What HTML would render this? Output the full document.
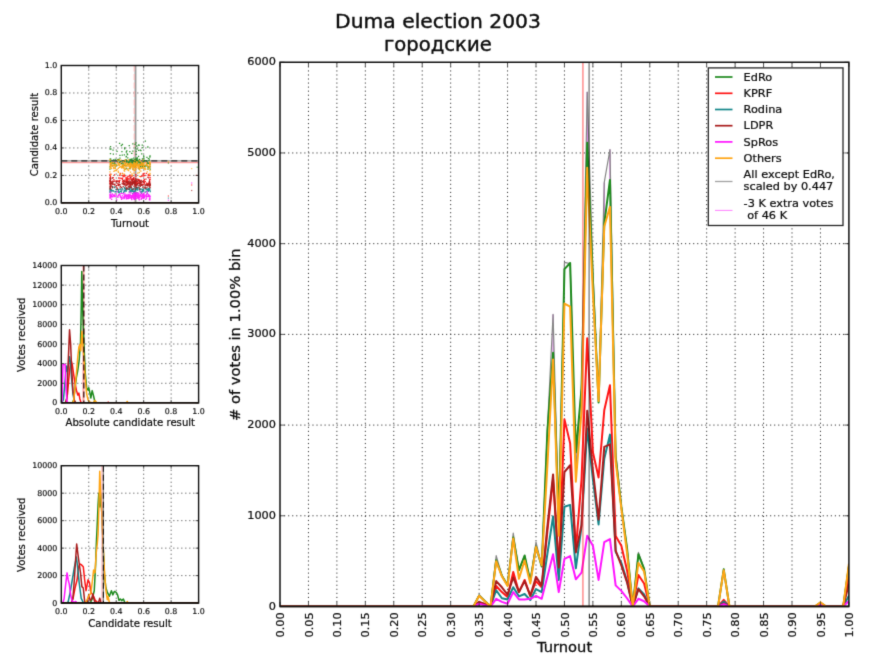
<!DOCTYPE html>
<html lang="ru"><head><meta charset="utf-8"><title>Duma election 2003</title>
<style>html,body{margin:0;padding:0;background:#fff;overflow:hidden}svg{display:block}text{font-family:'DejaVu Sans', 'Liberation Sans', sans-serif}</style></head><body>
<svg width="875" height="656" viewBox="0 0 875 656">
<defs><clipPath id="cm"><rect x="280.0" y="62.25" width="568.9" height="544.25"/></clipPath><clipPath id="c2"><rect x="61.3" y="265.5" width="137.3" height="137.4"/></clipPath><clipPath id="c3"><rect x="61.3" y="465.7" width="137.3" height="137.4"/></clipPath><filter id="soft" color-interpolation-filters="sRGB" filterUnits="userSpaceOnUse" x="0" y="0" width="875" height="656"><feConvolveMatrix order="3" kernelMatrix="0.0144 0.0912 0.0144 0.0912 0.5776 0.0912 0.0144 0.0912 0.0144" edgeMode="duplicate" preserveAlpha="false"/></filter></defs>
<rect width="875" height="656" fill="#fff"/>
<g filter="url(#soft)">
<rect width="875" height="656" fill="#fff"/>
<g id="title"><text x="438.00" y="28.30" font-size="20.3" text-anchor="middle" fill="#0c0c0c" stroke="#0c0c0c" stroke-width="0.41">Duma election 2003</text><text x="437.90" y="50.50" font-size="19.6" text-anchor="middle" fill="#0c0c0c" stroke="#0c0c0c" stroke-width="0.39">городские</text></g>
<g id="sub1"><line x1="88.76" y1="65.50" x2="88.76" y2="202.90" stroke="#333" stroke-width="0.9" stroke-dasharray="1.05,2.95"/><line x1="116.22" y1="65.50" x2="116.22" y2="202.90" stroke="#333" stroke-width="0.9" stroke-dasharray="1.05,2.95"/><line x1="143.68" y1="65.50" x2="143.68" y2="202.90" stroke="#333" stroke-width="0.9" stroke-dasharray="1.05,2.95"/><line x1="171.14" y1="65.50" x2="171.14" y2="202.90" stroke="#333" stroke-width="0.9" stroke-dasharray="1.05,2.95"/><line x1="61.30" y1="175.42" x2="198.60" y2="175.42" stroke="#333" stroke-width="0.9" stroke-dasharray="1.05,2.95"/><line x1="61.30" y1="147.94" x2="198.60" y2="147.94" stroke="#333" stroke-width="0.9" stroke-dasharray="1.05,2.95"/><line x1="61.30" y1="120.46" x2="198.60" y2="120.46" stroke="#333" stroke-width="0.9" stroke-dasharray="1.05,2.95"/><line x1="61.30" y1="92.98" x2="198.60" y2="92.98" stroke="#333" stroke-width="0.9" stroke-dasharray="1.05,2.95"/><line x1="135.5" y1="65.5" x2="135.5" y2="202.9" stroke="#9a9a9a" stroke-width="1.9"/><line x1="134.2" y1="65.5" x2="134.2" y2="202.9" stroke="#ffb4b4" stroke-width="1.0" stroke-dasharray="6,2.5"/><line x1="61.3" y1="162.5" x2="198.6" y2="162.5" stroke="#ff9c9c" stroke-width="1.3"/><line x1="61.3" y1="160.9" x2="198.6" y2="160.9" stroke="#8c8c8c" stroke-width="1.2"/><line x1="61.3" y1="160.9" x2="198.6" y2="160.9" stroke="#2a2a2a" stroke-width="1.1" stroke-dasharray="6,4"/><path d="M109.8,160.3h1.3M149.2,164.5h1.3M124.7,163.3h1.3M113.1,163.4h1.3M137.2,161.9h1.3M149.3,163.8h1.3M134.1,162.8h1.3M148.7,162.7h1.3M133.5,162.4h1.3M109.7,161.2h1.3M129.4,165.8h1.3M127.7,164.7h1.3M143.2,156.9h1.3M122.0,162.8h1.3M138.5,162.8h1.3M124.9,165.8h1.3M143.5,161.2h1.3M128.2,163.0h1.3M125.3,159.6h1.3M120.1,161.3h1.3M125.5,156.9h1.3M114.0,163.0h1.3M136.3,162.6h1.3M127.3,164.7h1.3M133.0,164.5h1.3M114.0,164.7h1.3M135.5,158.2h1.3M131.4,161.6h1.3M130.6,160.7h1.3M126.4,161.2h1.3M133.1,162.7h1.3M128.0,162.0h1.3M119.1,162.5h1.3M124.3,169.2h1.3M109.8,161.0h1.3M116.6,159.6h1.3M119.3,158.1h1.3M132.4,169.2h1.3M145.6,164.8h1.3M126.3,162.4h1.3M118.9,162.6h1.3M119.6,161.4h1.3M126.0,161.1h1.3M142.2,162.6h1.3M134.1,159.6h1.3M137.0,164.0h1.3M132.6,160.1h1.3M136.1,160.7h1.3M114.6,166.8h1.3M135.8,158.6h1.3M132.8,162.6h1.3M134.7,159.4h1.3M110.1,165.3h1.3M128.7,163.3h1.3M112.3,165.4h1.3M139.0,159.4h1.3M141.3,165.7h1.3M123.5,165.4h1.3M126.1,168.5h1.3M144.1,166.5h1.3M129.6,166.3h1.3M129.2,168.6h1.3M138.6,169.2h1.3M132.7,166.7h1.3M110.1,159.1h1.3M138.6,165.6h1.3M129.2,164.1h1.3M146.4,166.1h1.3M138.6,162.9h1.3M117.4,160.2h1.3M127.1,157.8h1.3M122.5,164.0h1.3M110.0,164.6h1.3M144.8,165.8h1.3M138.8,160.9h1.3M143.5,160.6h1.3M147.6,163.3h1.3M109.5,161.4h1.3M126.0,161.1h1.3M109.6,158.9h1.3M109.3,169.2h1.3M134.7,163.6h1.3M132.3,164.8h1.3M143.6,161.1h1.3M138.5,162.1h1.3M129.4,159.4h1.3M109.9,161.9h1.3M141.8,159.0h1.3M131.0,164.8h1.3M134.0,167.3h1.3M135.1,163.4h1.3M130.3,160.5h1.3M139.8,166.9h1.3M112.8,160.0h1.3M138.4,161.0h1.3M146.0,160.9h1.3M121.9,165.4h1.3M147.4,166.9h1.3M135.4,163.9h1.3M138.2,168.1h1.3M147.4,167.6h1.3M130.9,162.4h1.3M143.8,165.4h1.3M139.2,161.6h1.3M140.3,163.7h1.3M111.8,163.0h1.3M116.2,165.5h1.3M142.8,161.1h1.3M143.2,160.4h1.3M147.4,169.2h1.3M134.1,162.5h1.3M140.9,163.6h1.3M149.5,166.9h1.3M121.8,167.0h1.3M117.7,159.4h1.3M148.3,166.6h1.3M132.2,166.2h1.3M110.4,163.8h1.3M130.1,167.1h1.3M129.1,160.2h1.3M111.9,165.8h1.3M146.5,163.7h1.3M130.2,162.8h1.3M110.0,160.5h1.3M129.3,161.7h1.3M114.5,159.5h1.3M110.2,162.4h1.3M122.3,161.2h1.3M131.3,163.9h1.3M114.2,165.1h1.3M133.1,165.9h1.3M132.2,165.9h1.3M137.3,162.0h1.3M130.6,159.3h1.3M133.9,161.8h1.3M142.0,164.6h1.3M122.0,165.5h1.3M146.3,157.3h1.3M133.3,162.8h1.3M143.3,158.8h1.3M110.0,160.1h1.3M125.7,160.7h1.3M136.3,159.1h1.3M148.3,160.6h1.3M129.5,160.9h1.3M116.9,161.9h1.3M134.7,166.2h1.3M115.2,164.1h1.3M136.8,158.0h1.3M146.7,162.2h1.3M127.9,162.5h1.3M122.4,166.3h1.3M109.8,162.4h1.3M129.8,168.1h1.3M123.7,161.8h1.3M134.7,161.5h1.3M148.7,159.2h1.3M144.0,166.1h1.3M125.6,165.7h1.3M141.7,165.0h1.3M142.1,165.5h1.3M142.1,167.9h1.3M137.3,159.8h1.3M140.1,166.7h1.3M138.9,164.7h1.3M139.2,165.5h1.3M118.6,160.0h1.3M136.1,165.2h1.3M130.8,159.6h1.3M142.3,163.1h1.3M140.0,162.5h1.3M139.1,163.1h1.3M131.8,162.5h1.3M131.4,162.2h1.3M139.9,165.0h1.3M149.6,169.2h1.3M141.9,166.8h1.3M124.9,165.7h1.3M136.7,163.7h1.3M109.4,166.8h1.3M133.7,160.4h1.3M149.2,164.0h1.3M131.4,159.1h1.3M120.7,163.5h1.3M128.4,163.0h1.3M135.2,163.0h1.3M139.5,165.8h1.3M148.2,163.5h1.3M138.8,164.7h1.3M110.2,162.9h1.3M138.4,145.4h1.3M110.2,149.0h1.3M125.7,156.4h1.3M128.6,145.7h1.3M135.9,159.7h1.3M109.5,149.2h1.3M126.2,150.9h1.3M147.7,158.7h1.3M118.9,143.3h1.3M134.5,144.4h1.3M132.2,143.8h1.3M133.1,158.2h1.3M125.7,152.0h1.3M144.7,141.1h1.3M138.0,150.4h1.3M109.9,146.6h1.3M138.1,145.0h1.3M134.7,147.8h1.3M129.2,151.6h1.3M133.0,161.7h1.3M141.6,145.2h1.3M140.3,150.7h1.3M139.7,150.1h1.3M149.2,157.0h1.3M123.7,154.8h1.3M126.5,153.8h1.3M112.4,150.2h1.3M126.9,154.5h1.3M121.3,151.7h1.3M131.0,153.3h1.3M131.2,153.4h1.3M124.0,148.8h1.3M124.0,148.0h1.3M131.4,159.0h1.3M147.2,147.0h1.3M121.6,155.1h1.3M121.8,144.5h1.3M119.3,155.4h1.3M137.9,156.4h1.3M137.2,161.1h1.3M143.0,155.9h1.3M116.4,151.4h1.3M120.7,145.5h1.3M132.2,151.1h1.3M135.5,151.4h1.3M141.1,153.9h1.3M142.2,147.7h1.3M112.7,154.1h1.3M135.5,154.3h1.3M135.4,142.9h1.3M149.4,156.0h1.3M136.4,149.0h1.3M109.8,153.6h1.3M125.8,160.5h1.3M136.2,146.0h1.3" stroke="#1e8a1e" stroke-width="1.3" fill="none" opacity="0.92"/><path d="M122.2,180.2h1.3M126.6,181.8h1.3M118.1,184.6h1.3M138.7,181.0h1.3M122.3,175.3h1.3M121.8,173.4h1.3M129.4,182.6h1.3M117.8,185.4h1.3M134.6,184.8h1.3M149.2,175.5h1.3M127.5,176.1h1.3M126.2,182.0h1.3M132.4,178.6h1.3M148.7,182.7h1.3M133.3,182.8h1.3M115.4,187.1h1.3M121.9,178.2h1.3M149.2,185.6h1.3M140.6,176.4h1.3M133.0,177.7h1.3M142.7,184.3h1.3M129.9,179.0h1.3M138.0,180.3h1.3M135.8,183.6h1.3M149.5,179.3h1.3M112.2,177.7h1.3M141.0,182.7h1.3M143.8,180.1h1.3M131.4,175.3h1.3M127.3,181.2h1.3M135.5,184.0h1.3M114.0,174.8h1.3M124.2,176.1h1.3M145.7,173.4h1.3M141.4,184.9h1.3M117.2,185.1h1.3M126.6,177.2h1.3M134.0,182.1h1.3M137.3,182.2h1.3M140.0,176.6h1.3M109.4,174.4h1.3M123.7,175.0h1.3M142.9,180.4h1.3M123.8,181.5h1.3M139.3,182.6h1.3M125.8,182.8h1.3M109.7,177.4h1.3M118.7,181.3h1.3M120.8,178.3h1.3M136.6,182.2h1.3M110.2,184.4h1.3M127.4,176.7h1.3M129.0,178.9h1.3M110.2,181.6h1.3M119.1,175.3h1.3M142.3,175.1h1.3M128.5,178.8h1.3M143.6,183.7h1.3M129.2,179.1h1.3M131.8,184.0h1.3M123.1,176.5h1.3M147.6,175.6h1.3M109.6,179.5h1.3M109.6,182.4h1.3M148.7,184.2h1.3M125.2,178.0h1.3M149.5,184.4h1.3M127.3,179.4h1.3M118.1,178.0h1.3M133.1,178.2h1.3M112.6,177.6h1.3M128.3,183.9h1.3M119.5,178.2h1.3M114.1,185.2h1.3M109.3,175.2h1.3M110.2,186.3h1.3M126.0,181.1h1.3M134.7,182.9h1.3M148.8,181.8h1.3M132.1,183.0h1.3M119.2,180.4h1.3M137.5,179.5h1.3M109.8,186.5h1.3M136.5,179.1h1.3M130.4,181.8h1.3M124.0,184.5h1.3M125.9,178.3h1.3M138.9,180.1h1.3M115.6,181.0h1.3M133.1,182.9h1.3M143.5,173.4h1.3M131.3,179.6h1.3M144.0,175.5h1.3M124.4,179.9h1.3M147.5,183.8h1.3M125.2,181.8h1.3M133.1,182.8h1.3M127.1,178.6h1.3M127.3,178.7h1.3M134.5,181.2h1.3M149.2,182.1h1.3M136.0,182.2h1.3M109.5,178.2h1.3M128.9,176.9h1.3M109.5,180.0h1.3M148.0,183.2h1.3M139.7,181.7h1.3M122.0,175.9h1.3M109.8,180.2h1.3M131.4,180.3h1.3M126.4,177.6h1.3M125.5,181.3h1.3M142.5,174.0h1.3M132.3,182.7h1.3M135.2,174.7h1.3M133.6,181.3h1.3M131.5,176.0h1.3M129.5,175.2h1.3M109.5,182.4h1.3M126.1,184.3h1.3M112.3,187.1h1.3M127.0,180.2h1.3M109.7,183.4h1.3M129.1,175.4h1.3M142.2,176.1h1.3M131.4,179.0h1.3M135.4,176.2h1.3M117.8,181.4h1.3M121.9,181.7h1.3M138.3,182.9h1.3M127.9,178.9h1.3M146.7,185.3h1.3M133.8,180.0h1.3M116.0,181.8h1.3M117.4,181.4h1.3M136.5,183.6h1.3M129.4,185.9h1.3M128.1,183.5h1.3M122.5,182.1h1.3M118.7,180.6h1.3M119.6,174.9h1.3M136.1,183.1h1.3M126.7,183.3h1.3M146.0,183.1h1.3M109.7,179.6h1.3M143.7,182.5h1.3M144.7,181.6h1.3M122.7,184.3h1.3M143.4,181.9h1.3M113.2,179.7h1.3M129.2,184.6h1.3M131.6,179.8h1.3M146.5,184.6h1.3M123.9,175.2h1.3M130.4,176.9h1.3M125.7,180.2h1.3M148.9,179.6h1.3M133.4,178.5h1.3M109.5,180.8h1.3M149.5,177.6h1.3M141.1,185.2h1.3M131.2,180.6h1.3M146.4,184.3h1.3M119.7,173.4h1.3M138.3,179.7h1.3M109.6,182.6h1.3M147.3,184.5h1.3M133.1,179.3h1.3M148.4,175.7h1.3M130.1,179.0h1.3M114.1,181.1h1.3M121.7,179.4h1.3M112.0,181.1h1.3M117.5,184.3h1.3M143.8,179.4h1.3M126.1,182.3h1.3M149.0,180.6h1.3M109.4,181.2h1.3M109.3,183.5h1.3M109.8,176.1h1.3M132.1,181.2h1.3M147.2,177.4h1.3M147.6,174.4h1.3M110.1,183.2h1.3M109.8,182.0h1.3M146.9,184.4h1.3M117.9,181.2h1.3M142.9,175.9h1.3M110.2,174.1h1.3M130.2,179.0h1.3" stroke="#ff1414" stroke-width="1.3" fill="none" opacity="0.92"/><path d="M149.1,190.0h1.3M125.5,189.3h1.3M142.6,190.0h1.3M132.2,193.4h1.3M139.4,189.6h1.3M138.4,187.3h1.3M137.1,190.0h1.3M134.9,189.1h1.3M129.2,187.2h1.3M146.2,189.3h1.3M137.3,189.4h1.3M136.6,189.5h1.3M116.0,189.3h1.3M140.1,189.0h1.3M149.0,188.5h1.3M109.3,191.1h1.3M130.7,186.8h1.3M125.1,190.1h1.3M147.2,189.2h1.3M124.3,189.1h1.3M145.9,189.0h1.3M134.7,190.3h1.3M146.6,193.1h1.3M123.9,188.3h1.3M113.8,187.6h1.3M123.9,190.6h1.3M148.0,188.5h1.3M149.6,191.6h1.3M135.7,189.4h1.3M132.6,191.1h1.3M111.8,190.6h1.3M120.5,191.3h1.3M141.0,193.3h1.3M119.9,189.2h1.3M132.0,191.3h1.3M117.3,191.7h1.3M131.5,190.2h1.3M133.4,191.1h1.3M111.9,186.7h1.3M118.6,192.9h1.3M147.0,190.0h1.3M109.6,191.4h1.3M127.9,189.4h1.3M115.4,189.4h1.3M117.6,191.0h1.3M131.0,191.2h1.3M132.4,189.7h1.3M148.3,189.6h1.3M134.4,193.2h1.3M131.4,189.5h1.3M124.3,188.5h1.3M139.2,190.2h1.3M134.9,188.4h1.3M136.4,192.7h1.3M126.4,188.5h1.3M144.9,188.6h1.3M132.7,188.6h1.3M120.8,192.1h1.3M134.8,190.5h1.3M109.5,190.2h1.3M129.8,190.8h1.3M133.3,192.2h1.3M141.3,191.8h1.3M126.4,189.7h1.3M125.2,188.6h1.3M130.0,191.8h1.3M111.1,190.1h1.3M141.6,189.1h1.3M137.3,188.9h1.3M140.1,191.6h1.3M135.2,189.4h1.3M130.7,188.8h1.3M128.8,188.0h1.3M111.9,187.6h1.3M117.9,192.4h1.3M136.2,188.9h1.3M131.2,190.1h1.3M130.5,191.3h1.3M141.2,191.8h1.3M141.5,189.6h1.3M109.5,189.3h1.3M112.2,190.8h1.3M147.6,191.3h1.3M145.7,191.2h1.3M110.9,191.2h1.3M147.6,190.3h1.3M119.3,191.6h1.3M131.7,190.4h1.3M123.0,192.5h1.3M128.0,189.0h1.3M136.5,189.7h1.3M129.3,191.2h1.3M128.8,188.3h1.3M114.4,186.7h1.3M133.4,192.4h1.3M144.6,192.1h1.3M125.7,191.2h1.3M128.6,191.8h1.3M140.1,192.2h1.3M136.6,187.7h1.3M124.8,191.0h1.3M129.7,187.9h1.3M121.5,188.5h1.3M136.0,189.6h1.3M145.3,189.2h1.3M118.4,189.6h1.3M123.5,191.4h1.3M134.1,191.4h1.3M110.5,189.7h1.3M141.7,190.8h1.3M137.0,187.7h1.3M109.9,188.9h1.3M109.8,190.4h1.3M109.6,189.9h1.3M123.8,187.3h1.3M114.3,191.8h1.3M112.9,191.0h1.3M132.4,191.1h1.3M132.6,189.7h1.3M147.9,190.1h1.3M110.0,192.6h1.3M115.6,191.9h1.3M149.3,190.6h1.3M132.3,189.5h1.3M122.2,189.9h1.3M134.9,188.9h1.3M109.7,190.6h1.3M120.5,190.0h1.3M141.7,191.7h1.3M130.8,190.5h1.3M112.1,190.6h1.3M136.2,187.5h1.3M129.3,190.4h1.3M109.5,190.6h1.3M130.8,189.6h1.3M109.4,188.3h1.3M143.0,191.0h1.3M148.7,189.6h1.3M133.9,193.3h1.3M117.7,189.5h1.3M136.0,187.3h1.3M109.4,192.4h1.3M133.9,187.9h1.3M140.6,191.9h1.3M109.6,189.6h1.3M109.9,190.6h1.3M115.1,191.7h1.3M129.0,189.2h1.3M139.1,189.4h1.3M143.1,188.8h1.3" stroke="#14868a" stroke-width="1.3" fill="none" opacity="0.92"/><path d="M139.8,183.6h1.3M133.2,181.8h1.3M125.7,189.2h1.3M132.8,183.3h1.3M119.8,186.3h1.3M129.5,184.9h1.3M127.4,182.5h1.3M130.8,183.7h1.3M122.7,180.8h1.3M130.7,185.2h1.3M148.9,182.5h1.3M130.7,184.4h1.3M136.5,181.6h1.3M131.1,180.0h1.3M138.4,183.2h1.3M124.2,181.2h1.3M149.4,187.7h1.3M140.6,180.4h1.3M122.9,183.1h1.3M127.6,187.1h1.3M110.0,185.9h1.3M127.4,183.6h1.3M136.4,184.4h1.3M144.7,188.0h1.3M123.1,182.4h1.3M147.4,184.2h1.3M139.5,180.9h1.3M138.6,181.1h1.3M131.3,182.2h1.3M112.1,182.3h1.3M132.3,183.0h1.3M134.7,182.5h1.3M149.2,187.5h1.3M149.6,185.4h1.3M133.8,182.7h1.3M134.4,189.2h1.3M148.8,185.2h1.3M140.4,181.9h1.3M109.8,189.2h1.3M128.0,181.5h1.3M110.2,178.1h1.3M125.4,182.3h1.3M134.6,183.8h1.3M129.2,182.8h1.3M109.9,179.3h1.3M109.4,181.6h1.3M133.9,183.9h1.3M142.0,187.1h1.3M134.9,186.8h1.3M126.1,179.6h1.3M127.8,186.4h1.3M145.3,179.2h1.3M115.8,185.6h1.3M149.6,184.0h1.3M118.7,182.2h1.3M115.6,181.8h1.3M131.8,184.5h1.3M129.3,185.8h1.3M130.0,183.8h1.3M109.5,183.6h1.3M134.8,184.7h1.3M109.7,183.4h1.3M148.4,184.2h1.3M140.0,183.1h1.3M141.5,185.4h1.3M139.4,185.3h1.3M109.8,181.0h1.3M109.5,184.6h1.3M129.6,184.6h1.3M136.8,181.4h1.3M146.3,187.5h1.3M141.4,184.7h1.3M116.4,188.0h1.3M121.5,183.5h1.3M147.3,185.9h1.3M133.9,183.8h1.3M146.9,184.2h1.3M113.7,184.4h1.3M144.4,184.3h1.3M139.9,182.2h1.3M134.4,180.9h1.3M140.5,180.8h1.3M144.5,186.8h1.3M147.3,185.5h1.3M127.9,184.0h1.3M134.5,183.2h1.3M140.5,185.4h1.3M130.1,184.5h1.3M137.9,185.9h1.3M122.6,186.7h1.3M146.0,185.2h1.3M148.1,177.8h1.3M122.7,184.2h1.3M109.3,180.7h1.3M130.9,187.7h1.3M135.1,182.6h1.3M141.2,184.1h1.3M135.5,185.5h1.3M135.1,181.3h1.3M129.6,182.7h1.3M110.2,181.8h1.3M140.0,181.8h1.3M135.1,178.7h1.3M128.4,189.2h1.3M148.8,185.8h1.3M111.6,181.8h1.3M139.8,184.4h1.3M123.6,183.3h1.3M127.7,187.2h1.3M109.4,189.2h1.3M111.5,182.7h1.3M132.3,179.9h1.3M109.4,186.5h1.3M125.5,182.2h1.3M136.8,184.2h1.3M114.4,184.2h1.3M132.3,183.6h1.3M128.0,181.9h1.3M145.0,185.1h1.3M109.8,186.5h1.3M149.6,184.2h1.3M129.8,182.0h1.3M123.0,180.6h1.3M135.9,187.4h1.3M109.6,186.2h1.3M136.0,185.5h1.3M129.0,183.3h1.3M110.1,186.4h1.3M109.6,178.2h1.3M125.5,187.7h1.3M139.2,184.8h1.3M135.7,179.9h1.3M126.8,184.7h1.3M131.0,185.1h1.3M123.0,183.8h1.3M132.3,183.5h1.3M118.2,185.6h1.3M137.5,183.7h1.3M111.7,187.6h1.3M125.0,186.0h1.3M138.0,183.4h1.3M119.4,187.8h1.3M131.9,189.2h1.3M128.4,183.2h1.3M147.6,185.8h1.3M126.5,184.9h1.3M109.4,187.4h1.3M120.9,187.4h1.3M126.2,181.6h1.3M109.8,181.0h1.3M132.2,181.5h1.3M112.3,184.3h1.3M130.0,187.2h1.3M124.6,184.0h1.3M148.7,181.4h1.3M131.5,184.8h1.3M143.4,187.8h1.3M134.8,182.6h1.3M136.2,187.6h1.3M123.9,183.4h1.3M138.6,188.1h1.3M130.7,187.3h1.3M136.6,184.9h1.3M109.6,187.9h1.3M133.8,182.0h1.3M118.3,183.1h1.3M141.9,181.5h1.3M109.7,184.2h1.3M146.2,184.3h1.3M130.0,184.1h1.3M144.5,185.3h1.3M130.5,182.3h1.3M111.2,184.0h1.3M131.2,184.5h1.3M113.1,181.4h1.3M133.5,183.0h1.3M111.8,183.3h1.3M116.4,183.4h1.3M128.7,187.0h1.3M128.4,183.2h1.3M123.6,184.9h1.3M137.0,183.7h1.3M134.5,185.3h1.3M130.7,182.1h1.3M149.0,186.0h1.3M139.7,186.3h1.3M129.5,186.2h1.3M127.8,181.8h1.3M109.8,187.9h1.3M118.3,184.6h1.3M132.9,183.1h1.3M134.3,184.0h1.3M143.0,182.1h1.3M137.2,183.8h1.3M126.6,188.5h1.3M146.3,185.3h1.3M112.3,183.5h1.3M130.0,177.5h1.3M138.2,185.9h1.3M112.3,183.3h1.3M133.4,186.4h1.3M139.1,189.1h1.3M110.0,185.9h1.3M132.8,182.4h1.3M136.5,181.2h1.3M126.1,182.7h1.3M125.7,185.3h1.3M135.1,180.1h1.3M142.8,181.8h1.3M141.0,184.5h1.3M130.3,185.1h1.3M138.5,183.6h1.3M131.3,183.3h1.3M130.2,182.2h1.3M110.2,183.4h1.3M132.7,179.0h1.3M127.8,186.2h1.3M111.0,185.9h1.3M119.4,184.6h1.3M116.7,189.2h1.3M133.9,184.7h1.3M111.9,178.2h1.3M133.8,181.6h1.3M137.5,180.0h1.3M124.7,184.1h1.3M129.2,181.0h1.3M136.0,184.4h1.3M133.0,181.3h1.3M132.8,181.7h1.3M116.5,181.0h1.3" stroke="#a81c1c" stroke-width="1.3" fill="none" opacity="0.92"/><path d="M134.4,196.4h1.3M143.1,195.1h1.3M134.7,195.3h1.3M133.8,197.3h1.3M141.2,195.0h1.3M135.4,195.7h1.3M123.4,197.6h1.3M110.0,195.5h1.3M138.6,199.8h1.3M148.0,195.0h1.3M117.3,196.4h1.3M114.1,196.7h1.3M136.7,194.2h1.3M143.3,198.2h1.3M148.7,196.4h1.3M138.4,193.8h1.3M112.1,196.9h1.3M132.8,197.6h1.3M135.3,195.8h1.3M127.4,196.5h1.3M121.0,193.4h1.3M134.4,197.8h1.3M133.7,194.6h1.3M135.1,195.7h1.3M109.3,195.7h1.3M123.8,198.1h1.3M136.0,193.5h1.3M129.2,194.2h1.3M133.5,198.1h1.3M143.0,193.8h1.3M127.9,197.8h1.3M149.2,199.3h1.3M111.4,196.6h1.3M134.1,199.2h1.3M125.6,197.7h1.3M115.9,195.8h1.3M115.1,196.0h1.3M121.6,198.1h1.3M109.5,195.6h1.3M140.6,193.2h1.3M141.9,194.7h1.3M111.7,194.0h1.3M130.4,197.6h1.3M134.1,192.9h1.3M123.9,197.4h1.3M113.7,195.6h1.3M127.5,195.0h1.3M109.8,192.2h1.3M142.7,197.5h1.3M133.7,194.0h1.3M133.7,199.3h1.3M148.9,195.3h1.3M133.7,196.4h1.3M121.7,195.9h1.3M145.5,194.7h1.3M146.3,193.2h1.3M138.2,198.9h1.3M129.8,195.5h1.3M124.4,196.4h1.3M131.2,196.8h1.3M117.8,195.4h1.3M146.6,191.6h1.3M143.5,195.0h1.3M126.2,196.4h1.3M111.0,199.4h1.3M132.6,198.1h1.3M149.2,198.6h1.3M137.3,195.2h1.3M131.9,196.5h1.3M138.5,195.4h1.3M126.9,198.6h1.3M113.6,195.2h1.3M129.7,195.2h1.3M134.6,194.2h1.3M146.1,196.2h1.3M133.8,196.4h1.3M134.0,197.0h1.3M137.9,196.3h1.3M146.0,196.5h1.3M133.7,194.4h1.3M149.2,199.9h1.3M109.3,197.9h1.3M134.0,197.7h1.3M145.1,195.9h1.3M149.0,198.9h1.3M149.3,198.0h1.3M110.1,196.2h1.3M134.0,199.3h1.3M148.9,196.5h1.3M142.8,196.6h1.3M139.2,197.6h1.3M123.0,197.1h1.3M117.2,197.3h1.3M132.6,197.2h1.3M145.9,198.2h1.3M134.0,196.7h1.3M132.9,196.7h1.3M137.5,192.8h1.3M144.2,196.1h1.3M131.3,196.1h1.3M140.5,199.4h1.3M125.5,197.1h1.3M114.7,193.9h1.3M132.0,194.3h1.3M132.7,196.7h1.3M129.2,196.8h1.3M141.4,198.0h1.3M145.1,199.4h1.3M119.5,195.7h1.3M112.3,196.7h1.3M136.5,196.3h1.3M130.5,192.9h1.3M133.5,193.5h1.3M109.7,198.2h1.3M132.9,196.5h1.3M149.5,196.4h1.3M137.6,196.8h1.3M134.5,198.4h1.3M128.5,196.3h1.3M137.8,197.1h1.3M124.1,196.0h1.3M139.6,195.9h1.3M133.0,195.0h1.3M134.8,197.9h1.3M121.2,197.6h1.3M134.0,195.0h1.3M127.0,196.0h1.3M138.5,196.5h1.3M130.7,195.7h1.3M144.5,195.8h1.3M132.1,197.3h1.3M142.9,196.2h1.3M128.8,192.1h1.3M131.1,196.8h1.3M124.2,193.2h1.3M132.9,195.5h1.3M123.5,194.6h1.3M136.3,198.3h1.3M113.1,195.0h1.3M148.7,199.1h1.3M137.4,195.4h1.3M129.3,196.0h1.3M130.9,196.2h1.3M147.5,196.5h1.3M129.3,197.5h1.3M112.9,195.9h1.3M126.1,195.2h1.3M143.5,195.8h1.3M125.0,194.9h1.3M147.3,196.1h1.3M136.6,196.0h1.3M136.2,198.3h1.3M109.4,196.6h1.3M130.8,198.2h1.3M142.6,197.5h1.3M132.3,195.1h1.3M109.3,194.2h1.3M129.0,198.0h1.3M143.0,194.5h1.3M123.6,196.4h1.3M128.4,195.5h1.3M120.9,199.3h1.3M139.8,194.5h1.3M146.5,196.4h1.3M141.9,198.0h1.3M148.8,199.9h1.3M111.9,196.7h1.3M134.0,194.8h1.3M127.7,198.7h1.3M109.3,195.5h1.3M125.6,194.8h1.3M138.8,195.5h1.3M109.4,195.5h1.3M133.9,194.5h1.3M127.6,196.6h1.3M135.3,192.7h1.3M111.2,195.4h1.3M147.3,194.2h1.3M119.7,193.8h1.3M135.7,194.9h1.3M131.6,195.6h1.3M144.4,196.0h1.3M141.5,195.8h1.3M123.2,198.6h1.3M120.6,197.2h1.3M119.7,196.9h1.3M136.6,194.8h1.3M132.8,197.1h1.3M130.2,197.3h1.3M141.6,195.4h1.3M142.1,194.2h1.3M133.6,197.5h1.3M144.0,197.4h1.3M148.8,199.4h1.3M132.8,198.6h1.3M127.6,194.4h1.3M125.7,198.8h1.3M118.3,194.3h1.3M110.1,195.7h1.3M130.2,197.8h1.3M131.8,197.4h1.3M118.8,194.7h1.3M147.5,194.7h1.3M126.8,197.0h1.3M109.4,195.8h1.3M130.9,196.2h1.3M137.5,194.1h1.3M137.0,197.5h1.3M128.6,197.9h1.3M121.2,198.7h1.3M135.5,196.3h1.3M134.1,198.4h1.3M140.3,196.4h1.3M110.0,194.4h1.3M116.7,191.6h1.3M110.2,197.5h1.3M124.8,195.7h1.3M138.3,195.9h1.3M140.9,198.7h1.3M134.9,194.9h1.3M136.2,196.8h1.3M137.7,196.3h1.3M110.2,197.1h1.3M149.0,195.9h1.3M136.4,196.7h1.3M116.1,199.9h1.3M131.2,195.9h1.3M145.9,196.2h1.3M109.9,197.1h1.3M134.3,199.4h1.3M137.9,198.0h1.3M141.2,196.5h1.3M122.3,193.7h1.3M131.1,199.5h1.3M129.8,197.3h1.3M127.7,195.3h1.3M109.7,194.9h1.3M120.2,197.5h1.3M141.7,197.4h1.3M141.1,196.4h1.3M133.1,193.2h1.3M109.9,196.2h1.3M145.7,194.7h1.3M128.6,197.9h1.3M131.9,197.0h1.3M139.2,191.6h1.3M143.5,192.9h1.3M137.1,194.9h1.3M110.1,195.8h1.3M133.9,195.8h1.3" stroke="#ff14ff" stroke-width="1.3" fill="none" opacity="0.92"/><path d="M145.1,169.1h1.3M135.1,169.4h1.3M126.3,166.1h1.3M109.4,165.9h1.3M114.5,164.7h1.3M109.5,164.1h1.3M111.6,166.0h1.3M140.6,164.4h1.3M139.7,164.5h1.3M146.0,164.4h1.3M134.1,165.2h1.3M133.3,163.8h1.3M135.4,163.7h1.3M133.7,167.7h1.3M142.2,167.4h1.3M146.2,165.3h1.3M118.6,167.3h1.3M109.5,160.0h1.3M124.8,163.7h1.3M149.2,166.7h1.3M118.8,160.0h1.3M127.6,165.1h1.3M138.0,166.7h1.3M131.2,166.4h1.3M130.1,163.8h1.3M149.3,165.8h1.3M141.0,165.5h1.3M143.4,165.7h1.3M112.6,166.0h1.3M143.2,168.3h1.3M132.9,165.2h1.3M121.5,164.9h1.3M112.9,168.0h1.3M117.7,168.4h1.3M131.4,164.5h1.3M128.8,163.7h1.3M109.9,164.6h1.3M132.3,166.6h1.3M117.8,164.0h1.3M135.7,163.1h1.3M118.8,165.3h1.3M127.7,160.0h1.3M117.6,165.0h1.3M121.0,167.7h1.3M138.8,166.8h1.3M119.6,163.4h1.3M132.8,167.7h1.3M132.0,165.9h1.3M113.0,167.7h1.3M141.1,163.4h1.3M116.5,169.4h1.3M112.9,162.8h1.3M135.2,164.5h1.3M145.9,163.1h1.3M109.7,168.1h1.3M124.8,168.9h1.3M132.5,165.3h1.3M128.0,170.6h1.3M135.9,165.9h1.3M132.7,167.5h1.3M140.9,167.6h1.3M142.6,163.5h1.3M115.6,165.0h1.3M123.5,170.6h1.3M148.8,167.2h1.3M149.3,170.6h1.3M117.2,162.3h1.3M130.5,163.9h1.3M137.4,164.6h1.3M138.7,166.5h1.3M109.4,164.2h1.3M131.2,165.7h1.3M131.9,166.0h1.3M142.3,160.1h1.3M114.2,164.6h1.3M119.0,167.3h1.3M142.8,164.3h1.3M140.6,164.0h1.3M147.2,165.2h1.3M121.7,167.4h1.3M124.5,169.3h1.3M127.3,164.7h1.3M140.0,168.0h1.3M138.7,167.4h1.3M122.7,165.8h1.3M110.8,166.2h1.3M133.5,166.7h1.3M109.6,168.2h1.3M139.6,168.2h1.3M110.2,163.0h1.3M123.1,168.5h1.3M130.5,164.2h1.3M149.1,163.7h1.3M130.3,166.3h1.3M133.4,170.6h1.3M121.6,166.3h1.3M132.1,168.3h1.3M135.8,161.9h1.3M148.9,164.3h1.3M129.8,164.4h1.3M147.1,168.9h1.3M144.2,169.5h1.3M138.7,165.6h1.3M113.2,168.7h1.3M114.3,170.6h1.3M129.9,165.4h1.3M138.6,160.7h1.3M125.3,163.5h1.3M131.8,165.9h1.3M137.7,166.8h1.3M110.2,162.8h1.3M132.4,167.1h1.3M117.1,160.2h1.3M123.6,167.0h1.3M149.4,165.3h1.3M130.7,166.7h1.3M111.3,162.4h1.3M139.6,161.5h1.3M114.7,168.5h1.3M147.1,166.5h1.3M134.3,166.9h1.3M142.5,164.8h1.3M141.2,163.9h1.3M126.7,169.9h1.3M118.5,167.3h1.3M120.4,160.2h1.3M112.9,162.9h1.3M149.2,165.8h1.3M129.3,166.7h1.3M134.3,166.5h1.3M133.6,167.4h1.3M129.6,166.0h1.3M149.1,162.8h1.3M124.8,165.0h1.3M129.4,164.2h1.3M123.8,162.7h1.3M140.9,168.4h1.3M136.9,165.8h1.3M149.6,163.5h1.3M143.0,166.9h1.3M110.0,166.7h1.3M141.2,165.3h1.3M140.6,168.1h1.3M129.9,168.7h1.3M144.5,167.8h1.3M134.1,165.1h1.3M109.7,167.3h1.3M112.2,164.8h1.3M132.2,169.7h1.3M130.5,164.2h1.3M137.7,166.9h1.3M148.9,162.4h1.3M112.8,164.9h1.3M130.0,163.5h1.3M141.0,162.3h1.3M128.4,164.3h1.3M135.2,165.7h1.3M110.0,164.2h1.3M110.0,165.6h1.3M134.2,160.3h1.3M129.4,164.2h1.3M109.3,160.0h1.3M138.9,163.8h1.3M133.3,162.4h1.3M119.5,164.2h1.3M124.4,160.0h1.3M110.9,168.5h1.3M138.5,167.6h1.3M133.1,162.4h1.3M127.9,169.2h1.3M140.8,165.2h1.3M129.2,164.3h1.3M140.6,165.0h1.3M109.6,163.9h1.3M110.2,167.6h1.3M122.3,166.2h1.3M123.9,164.9h1.3M137.3,165.3h1.3M122.5,162.0h1.3M120.1,166.4h1.3M123.8,164.4h1.3M138.5,165.1h1.3M132.7,166.3h1.3M122.4,164.8h1.3M130.2,163.2h1.3M135.5,164.2h1.3M110.5,165.2h1.3M126.5,164.1h1.3M132.1,167.4h1.3M136.1,164.5h1.3M136.8,166.1h1.3M127.3,164.3h1.3M130.1,166.5h1.3M137.0,162.1h1.3M141.9,165.0h1.3M121.3,168.2h1.3M121.3,166.9h1.3M144.3,168.9h1.3M131.6,166.3h1.3M109.6,163.3h1.3M135.7,167.5h1.3M133.5,167.8h1.3M137.5,166.5h1.3M129.5,166.9h1.3M138.8,168.9h1.3M137.5,167.4h1.3M128.9,164.0h1.3M131.7,165.1h1.3M109.8,167.7h1.3M134.5,163.3h1.3M132.1,165.2h1.3M131.5,166.9h1.3M109.8,163.3h1.3M147.3,166.2h1.3M134.6,167.4h1.3M129.0,166.3h1.3M124.7,160.9h1.3M110.8,163.6h1.3M139.0,169.9h1.3M146.5,164.9h1.3M118.7,163.9h1.3M127.5,166.2h1.3M124.5,165.4h1.3M134.5,169.9h1.3M122.7,167.3h1.3M137.5,166.9h1.3M137.3,168.0h1.3M115.7,170.6h1.3M129.1,167.7h1.3M131.1,165.5h1.3M125.8,165.5h1.3M138.9,166.8h1.3M133.1,164.5h1.3M113.8,165.0h1.3M110.0,167.0h1.3M144.4,165.3h1.3M133.2,162.6h1.3M125.1,165.9h1.3M122.4,167.4h1.3M134.1,170.3h1.3M132.2,168.9h1.3M142.8,163.7h1.3M114.3,168.2h1.3M139.8,165.4h1.3M147.2,165.2h1.3M114.7,166.5h1.3M125.3,167.9h1.3M149.2,161.8h1.3M136.4,163.6h1.3M149.4,165.0h1.3M132.7,165.0h1.3M128.8,167.0h1.3M143.1,164.0h1.3M126.8,163.4h1.3M148.9,168.5h1.3M141.6,163.1h1.3M134.8,164.5h1.3M119.4,166.8h1.3M133.6,162.4h1.3M134.4,166.9h1.3M129.9,167.9h1.3M134.1,164.7h1.3M121.7,165.2h1.3M136.3,162.9h1.3M117.4,163.6h1.3M128.2,164.7h1.3M127.6,169.0h1.3M120.4,166.7h1.3M144.2,162.9h1.3M138.5,165.6h1.3M137.1,173.1h1.3M138.6,172.5h1.3M121.8,173.7h1.3M133.3,173.1h1.3M149.4,173.4h1.3M138.9,176.4h1.3M140.2,171.2h1.3M113.3,171.4h1.3M119.4,174.0h1.3M110.2,174.7h1.3M131.4,175.4h1.3M124.0,171.2h1.3M123.5,174.2h1.3M146.6,171.8h1.3M117.8,172.3h1.3M131.3,173.9h1.3M129.9,172.2h1.3M109.3,171.9h1.3M149.0,174.5h1.3M117.5,171.1h1.3" stroke="#ffa514" stroke-width="1.3" fill="none" opacity="0.92"/><rect x="167.8" y="161.1" width="1.2" height="1.2" fill="#ffa514" opacity="0.7"/><rect x="167.8" y="162.5" width="1.2" height="1.2" fill="#1e8a1e" opacity="0.7"/><rect x="167.8" y="195.4" width="1.2" height="1.2" fill="#ff1414" opacity="0.7"/><rect x="167.8" y="197.5" width="1.2" height="1.2" fill="#14868a" opacity="0.7"/><rect x="167.8" y="199.6" width="1.2" height="1.2" fill="#ff14ff" opacity="0.7"/><rect x="191.1" y="168.0" width="1.2" height="1.2" fill="#ffa514" opacity="0.7"/><rect x="191.1" y="184.4" width="1.2" height="1.2" fill="#ff1414" opacity="0.7"/><rect x="191.1" y="189.9" width="1.2" height="1.2" fill="#a81c1c" opacity="0.7"/><rect x="191.1" y="182.4" width="1.2" height="1.2" fill="#ff14ff" opacity="0.7"/><rect x="195.9" y="174.8" width="1.2" height="1.2" fill="#ff1414" opacity="0.7"/><rect x="196.6" y="166.6" width="1.2" height="1.2" fill="#1e8a1e" opacity="0.7"/><line x1="61.30" y1="202.90" x2="61.30" y2="199.90" stroke="#3a3a3a" stroke-width="0.85"/><line x1="61.30" y1="65.50" x2="61.30" y2="68.50" stroke="#3a3a3a" stroke-width="0.85"/><line x1="88.76" y1="202.90" x2="88.76" y2="199.90" stroke="#3a3a3a" stroke-width="0.85"/><line x1="88.76" y1="65.50" x2="88.76" y2="68.50" stroke="#3a3a3a" stroke-width="0.85"/><line x1="116.22" y1="202.90" x2="116.22" y2="199.90" stroke="#3a3a3a" stroke-width="0.85"/><line x1="116.22" y1="65.50" x2="116.22" y2="68.50" stroke="#3a3a3a" stroke-width="0.85"/><line x1="143.68" y1="202.90" x2="143.68" y2="199.90" stroke="#3a3a3a" stroke-width="0.85"/><line x1="143.68" y1="65.50" x2="143.68" y2="68.50" stroke="#3a3a3a" stroke-width="0.85"/><line x1="171.14" y1="202.90" x2="171.14" y2="199.90" stroke="#3a3a3a" stroke-width="0.85"/><line x1="171.14" y1="65.50" x2="171.14" y2="68.50" stroke="#3a3a3a" stroke-width="0.85"/><line x1="198.60" y1="202.90" x2="198.60" y2="199.90" stroke="#3a3a3a" stroke-width="0.85"/><line x1="198.60" y1="65.50" x2="198.60" y2="68.50" stroke="#3a3a3a" stroke-width="0.85"/><line x1="61.30" y1="202.90" x2="64.30" y2="202.90" stroke="#3a3a3a" stroke-width="0.85"/><line x1="198.60" y1="202.90" x2="195.60" y2="202.90" stroke="#3a3a3a" stroke-width="0.85"/><line x1="61.30" y1="175.42" x2="64.30" y2="175.42" stroke="#3a3a3a" stroke-width="0.85"/><line x1="198.60" y1="175.42" x2="195.60" y2="175.42" stroke="#3a3a3a" stroke-width="0.85"/><line x1="61.30" y1="147.94" x2="64.30" y2="147.94" stroke="#3a3a3a" stroke-width="0.85"/><line x1="198.60" y1="147.94" x2="195.60" y2="147.94" stroke="#3a3a3a" stroke-width="0.85"/><line x1="61.30" y1="120.46" x2="64.30" y2="120.46" stroke="#3a3a3a" stroke-width="0.85"/><line x1="198.60" y1="120.46" x2="195.60" y2="120.46" stroke="#3a3a3a" stroke-width="0.85"/><line x1="61.30" y1="92.98" x2="64.30" y2="92.98" stroke="#3a3a3a" stroke-width="0.85"/><line x1="198.60" y1="92.98" x2="195.60" y2="92.98" stroke="#3a3a3a" stroke-width="0.85"/><line x1="61.30" y1="65.50" x2="64.30" y2="65.50" stroke="#3a3a3a" stroke-width="0.85"/><line x1="198.60" y1="65.50" x2="195.60" y2="65.50" stroke="#3a3a3a" stroke-width="0.85"/><line x1="61.30" y1="202.70" x2="198.60" y2="202.70" stroke="#2e1000" stroke-width="1.5999999999999999"/><rect x="61.30" y="65.50" width="137.30" height="137.40" fill="none" stroke="#101010" stroke-width="1.4"/><text x="57.30" y="205.40" font-size="7.9" text-anchor="end" fill="#0c0c0c" stroke="#0c0c0c" stroke-width="0.16">0.0</text><text x="61.30" y="214.00" font-size="7.9" text-anchor="middle" fill="#0c0c0c" stroke="#0c0c0c" stroke-width="0.16">0.0</text><text x="57.30" y="177.92" font-size="7.9" text-anchor="end" fill="#0c0c0c" stroke="#0c0c0c" stroke-width="0.16">0.2</text><text x="88.76" y="214.00" font-size="7.9" text-anchor="middle" fill="#0c0c0c" stroke="#0c0c0c" stroke-width="0.16">0.2</text><text x="57.30" y="150.44" font-size="7.9" text-anchor="end" fill="#0c0c0c" stroke="#0c0c0c" stroke-width="0.16">0.4</text><text x="116.22" y="214.00" font-size="7.9" text-anchor="middle" fill="#0c0c0c" stroke="#0c0c0c" stroke-width="0.16">0.4</text><text x="57.30" y="122.96" font-size="7.9" text-anchor="end" fill="#0c0c0c" stroke="#0c0c0c" stroke-width="0.16">0.6</text><text x="143.68" y="214.00" font-size="7.9" text-anchor="middle" fill="#0c0c0c" stroke="#0c0c0c" stroke-width="0.16">0.6</text><text x="57.30" y="95.48" font-size="7.9" text-anchor="end" fill="#0c0c0c" stroke="#0c0c0c" stroke-width="0.16">0.8</text><text x="171.14" y="214.00" font-size="7.9" text-anchor="middle" fill="#0c0c0c" stroke="#0c0c0c" stroke-width="0.16">0.8</text><text x="57.30" y="68.00" font-size="7.9" text-anchor="end" fill="#0c0c0c" stroke="#0c0c0c" stroke-width="0.16">1.0</text><text x="198.60" y="214.00" font-size="7.9" text-anchor="middle" fill="#0c0c0c" stroke="#0c0c0c" stroke-width="0.16">1.0</text><text x="130.00" y="226.60" font-size="10.15" text-anchor="middle" fill="#0c0c0c" stroke="#0c0c0c" stroke-width="0.20">Turnout</text><text x="37.60" y="134.50" font-size="10.15" text-anchor="middle" fill="#0c0c0c" stroke="#0c0c0c" stroke-width="0.20" transform="rotate(-90 37.60 134.50)">Candidate result</text></g>
<g id="sub2"><line x1="88.76" y1="265.50" x2="88.76" y2="402.90" stroke="#333" stroke-width="0.9" stroke-dasharray="1.05,2.95"/><line x1="116.22" y1="265.50" x2="116.22" y2="402.90" stroke="#333" stroke-width="0.9" stroke-dasharray="1.05,2.95"/><line x1="143.68" y1="265.50" x2="143.68" y2="402.90" stroke="#333" stroke-width="0.9" stroke-dasharray="1.05,2.95"/><line x1="171.14" y1="265.50" x2="171.14" y2="402.90" stroke="#333" stroke-width="0.9" stroke-dasharray="1.05,2.95"/><line x1="61.30" y1="383.27" x2="198.60" y2="383.27" stroke="#333" stroke-width="0.9" stroke-dasharray="1.05,2.95"/><line x1="61.30" y1="363.64" x2="198.60" y2="363.64" stroke="#333" stroke-width="0.9" stroke-dasharray="1.05,2.95"/><line x1="61.30" y1="344.01" x2="198.60" y2="344.01" stroke="#333" stroke-width="0.9" stroke-dasharray="1.05,2.95"/><line x1="61.30" y1="324.39" x2="198.60" y2="324.39" stroke="#333" stroke-width="0.9" stroke-dasharray="1.05,2.95"/><line x1="61.30" y1="304.76" x2="198.60" y2="304.76" stroke="#333" stroke-width="0.9" stroke-dasharray="1.05,2.95"/><line x1="61.30" y1="285.13" x2="198.60" y2="285.13" stroke="#333" stroke-width="0.9" stroke-dasharray="1.05,2.95"/><g clip-path="url(#c2)"><line x1="83.47" y1="265.5" x2="83.47" y2="402.9" stroke="#ffa0a0" stroke-width="2.0"/><polyline points="72.28,402.90 73.66,399.96 75.03,388.18 76.40,377.38 77.78,370.51 79.15,360.70 80.52,342.05 81.21,309.66 81.76,271.39 82.86,314.57 83.95,344.01 85.33,373.46 86.70,388.18 88.07,390.14 88.76,387.69 90.13,394.07 90.82,397.99 92.19,390.63 93.57,396.03 94.94,402.11 97.00,402.90 198.60,402.90" fill="none" stroke="#1e8a1e" stroke-width="1.5" stroke-linejoin="round" /><polyline points="61.30,402.90 66.11,402.90 67.48,394.07 68.85,378.36 70.22,364.62 71.19,360.70 72.28,364.62 73.66,374.44 75.03,383.27 76.40,390.14 77.78,395.05 78.87,393.09 79.84,398.97 81.21,402.90 107.98,402.90 108.26,402.11 108.67,402.90 198.60,402.90" fill="none" stroke="#ff1414" stroke-width="1.5" stroke-linejoin="round" /><polyline points="61.30,402.90 63.36,399.96 64.73,385.23 66.38,366.10 67.48,371.49 68.44,364.62 69.54,356.77 70.64,363.64 71.60,378.36 72.97,394.07 74.34,401.43 75.72,402.90 198.60,402.90" fill="none" stroke="#14868a" stroke-width="1.5" stroke-linejoin="round" /><polyline points="61.30,402.90 65.42,402.90 66.79,397.99 68.16,363.64 69.54,329.78 70.64,344.01 71.60,367.57 72.97,391.12 74.34,399.96 75.72,402.90 198.60,402.90" fill="none" stroke="#a81c1c" stroke-width="1.5" stroke-linejoin="round" /><polyline points="61.30,402.90 62.12,399.96 62.95,364.62 65.14,364.62 65.97,388.18 67.07,401.92 68.16,402.90 198.60,402.90" fill="none" stroke="#ff14ff" stroke-width="1.5" stroke-linejoin="round" /><polyline points="61.30,402.90 72.28,402.90 73.66,400.94 75.03,387.20 76.40,373.46 77.78,356.77 78.87,346.96 79.84,344.50 80.80,350.88 81.89,331.26 82.86,344.01 83.95,358.74 85.33,380.33 86.70,394.07 88.07,399.96 90.13,402.31 92.88,402.90 94.94,400.35 97.00,402.90 126.52,402.90 127.20,401.43 127.89,402.90 198.60,402.90" fill="none" stroke="#ffa514" stroke-width="1.5" stroke-linejoin="round" /><line x1="83.82" y1="265.5" x2="83.82" y2="402.9" stroke="#2a0808" stroke-width="1.2" stroke-dasharray="6,3"/></g><line x1="61.30" y1="402.90" x2="61.30" y2="399.90" stroke="#3a3a3a" stroke-width="0.85"/><line x1="61.30" y1="265.50" x2="61.30" y2="268.50" stroke="#3a3a3a" stroke-width="0.85"/><line x1="88.76" y1="402.90" x2="88.76" y2="399.90" stroke="#3a3a3a" stroke-width="0.85"/><line x1="88.76" y1="265.50" x2="88.76" y2="268.50" stroke="#3a3a3a" stroke-width="0.85"/><line x1="116.22" y1="402.90" x2="116.22" y2="399.90" stroke="#3a3a3a" stroke-width="0.85"/><line x1="116.22" y1="265.50" x2="116.22" y2="268.50" stroke="#3a3a3a" stroke-width="0.85"/><line x1="143.68" y1="402.90" x2="143.68" y2="399.90" stroke="#3a3a3a" stroke-width="0.85"/><line x1="143.68" y1="265.50" x2="143.68" y2="268.50" stroke="#3a3a3a" stroke-width="0.85"/><line x1="171.14" y1="402.90" x2="171.14" y2="399.90" stroke="#3a3a3a" stroke-width="0.85"/><line x1="171.14" y1="265.50" x2="171.14" y2="268.50" stroke="#3a3a3a" stroke-width="0.85"/><line x1="198.60" y1="402.90" x2="198.60" y2="399.90" stroke="#3a3a3a" stroke-width="0.85"/><line x1="198.60" y1="265.50" x2="198.60" y2="268.50" stroke="#3a3a3a" stroke-width="0.85"/><line x1="61.30" y1="402.90" x2="64.30" y2="402.90" stroke="#3a3a3a" stroke-width="0.85"/><line x1="198.60" y1="402.90" x2="195.60" y2="402.90" stroke="#3a3a3a" stroke-width="0.85"/><line x1="61.30" y1="383.27" x2="64.30" y2="383.27" stroke="#3a3a3a" stroke-width="0.85"/><line x1="198.60" y1="383.27" x2="195.60" y2="383.27" stroke="#3a3a3a" stroke-width="0.85"/><line x1="61.30" y1="363.64" x2="64.30" y2="363.64" stroke="#3a3a3a" stroke-width="0.85"/><line x1="198.60" y1="363.64" x2="195.60" y2="363.64" stroke="#3a3a3a" stroke-width="0.85"/><line x1="61.30" y1="344.01" x2="64.30" y2="344.01" stroke="#3a3a3a" stroke-width="0.85"/><line x1="198.60" y1="344.01" x2="195.60" y2="344.01" stroke="#3a3a3a" stroke-width="0.85"/><line x1="61.30" y1="324.39" x2="64.30" y2="324.39" stroke="#3a3a3a" stroke-width="0.85"/><line x1="198.60" y1="324.39" x2="195.60" y2="324.39" stroke="#3a3a3a" stroke-width="0.85"/><line x1="61.30" y1="304.76" x2="64.30" y2="304.76" stroke="#3a3a3a" stroke-width="0.85"/><line x1="198.60" y1="304.76" x2="195.60" y2="304.76" stroke="#3a3a3a" stroke-width="0.85"/><line x1="61.30" y1="285.13" x2="64.30" y2="285.13" stroke="#3a3a3a" stroke-width="0.85"/><line x1="198.60" y1="285.13" x2="195.60" y2="285.13" stroke="#3a3a3a" stroke-width="0.85"/><line x1="61.30" y1="265.50" x2="64.30" y2="265.50" stroke="#3a3a3a" stroke-width="0.85"/><line x1="198.60" y1="265.50" x2="195.60" y2="265.50" stroke="#3a3a3a" stroke-width="0.85"/><line x1="61.30" y1="402.70" x2="198.60" y2="402.70" stroke="#2e1000" stroke-width="1.5999999999999999"/><rect x="61.30" y="265.50" width="137.30" height="137.40" fill="none" stroke="#101010" stroke-width="1.4"/><text x="57.30" y="405.40" font-size="7.9" text-anchor="end" fill="#0c0c0c" stroke="#0c0c0c" stroke-width="0.16">0</text><text x="57.30" y="385.77" font-size="7.9" text-anchor="end" fill="#0c0c0c" stroke="#0c0c0c" stroke-width="0.16">2000</text><text x="57.30" y="366.14" font-size="7.9" text-anchor="end" fill="#0c0c0c" stroke="#0c0c0c" stroke-width="0.16">4000</text><text x="57.30" y="346.51" font-size="7.9" text-anchor="end" fill="#0c0c0c" stroke="#0c0c0c" stroke-width="0.16">6000</text><text x="57.30" y="326.89" font-size="7.9" text-anchor="end" fill="#0c0c0c" stroke="#0c0c0c" stroke-width="0.16">8000</text><text x="57.30" y="307.26" font-size="7.9" text-anchor="end" fill="#0c0c0c" stroke="#0c0c0c" stroke-width="0.16">10000</text><text x="57.30" y="287.63" font-size="7.9" text-anchor="end" fill="#0c0c0c" stroke="#0c0c0c" stroke-width="0.16">12000</text><text x="57.30" y="268.00" font-size="7.9" text-anchor="end" fill="#0c0c0c" stroke="#0c0c0c" stroke-width="0.16">14000</text><text x="61.30" y="414.00" font-size="7.9" text-anchor="middle" fill="#0c0c0c" stroke="#0c0c0c" stroke-width="0.16">0.0</text><text x="88.76" y="414.00" font-size="7.9" text-anchor="middle" fill="#0c0c0c" stroke="#0c0c0c" stroke-width="0.16">0.2</text><text x="116.22" y="414.00" font-size="7.9" text-anchor="middle" fill="#0c0c0c" stroke="#0c0c0c" stroke-width="0.16">0.4</text><text x="143.68" y="414.00" font-size="7.9" text-anchor="middle" fill="#0c0c0c" stroke="#0c0c0c" stroke-width="0.16">0.6</text><text x="171.14" y="414.00" font-size="7.9" text-anchor="middle" fill="#0c0c0c" stroke="#0c0c0c" stroke-width="0.16">0.8</text><text x="198.60" y="414.00" font-size="7.9" text-anchor="middle" fill="#0c0c0c" stroke="#0c0c0c" stroke-width="0.16">1.0</text><text x="130.30" y="426.40" font-size="10.15" text-anchor="middle" fill="#0c0c0c" stroke="#0c0c0c" stroke-width="0.20">Absolute candidate result</text><text x="24.60" y="334.70" font-size="10.15" text-anchor="middle" fill="#0c0c0c" stroke="#0c0c0c" stroke-width="0.20" transform="rotate(-90 24.60 334.70)">Votes received</text></g>
<g id="sub3"><line x1="88.76" y1="465.70" x2="88.76" y2="603.10" stroke="#333" stroke-width="0.9" stroke-dasharray="1.05,2.95"/><line x1="116.22" y1="465.70" x2="116.22" y2="603.10" stroke="#333" stroke-width="0.9" stroke-dasharray="1.05,2.95"/><line x1="143.68" y1="465.70" x2="143.68" y2="603.10" stroke="#333" stroke-width="0.9" stroke-dasharray="1.05,2.95"/><line x1="171.14" y1="465.70" x2="171.14" y2="603.10" stroke="#333" stroke-width="0.9" stroke-dasharray="1.05,2.95"/><line x1="61.30" y1="575.62" x2="198.60" y2="575.62" stroke="#333" stroke-width="0.9" stroke-dasharray="1.05,2.95"/><line x1="61.30" y1="548.14" x2="198.60" y2="548.14" stroke="#333" stroke-width="0.9" stroke-dasharray="1.05,2.95"/><line x1="61.30" y1="520.66" x2="198.60" y2="520.66" stroke="#333" stroke-width="0.9" stroke-dasharray="1.05,2.95"/><line x1="61.30" y1="493.18" x2="198.60" y2="493.18" stroke="#333" stroke-width="0.9" stroke-dasharray="1.05,2.95"/><g clip-path="url(#c3)"><polyline points="61.30,603.10 90.13,603.10 92.19,598.98 94.25,590.73 95.62,564.63 96.31,544.02 97.27,523.41 98.10,504.17 98.78,493.18 99.74,506.92 100.84,494.55 101.80,513.79 103.18,548.14 104.55,575.62 105.92,587.99 107.30,592.11 109.35,596.23 111.41,590.73 112.79,594.86 114.44,591.42 116.22,592.38 117.59,594.86 118.97,600.35 120.34,598.98 121.71,600.63 123.36,598.98 124.73,602.28 125.83,603.10 198.60,603.10" fill="none" stroke="#1e8a1e" stroke-width="1.5" stroke-linejoin="round" /><polyline points="61.30,603.10 70.91,603.10 72.97,598.98 75.03,587.99 77.09,579.74 78.46,567.38 79.84,563.94 81.21,564.63 83.27,566.69 84.64,579.74 86.01,590.73 88.07,579.74 89.45,582.49 90.82,592.11 92.88,594.86 94.94,599.67 96.31,601.31 98.37,603.10 198.60,603.10" fill="none" stroke="#ff1414" stroke-width="1.5" stroke-linejoin="round" /><polyline points="61.30,603.10 66.79,603.10 68.16,601.73 70.22,592.11 72.28,579.74 74.34,567.38 76.40,557.07 77.78,568.75 79.15,582.49 81.21,598.29 83.27,602.41 84.64,603.10 198.60,603.10" fill="none" stroke="#14868a" stroke-width="1.5" stroke-linejoin="round" /><polyline points="61.30,603.10 71.60,603.10 72.97,597.60 74.34,579.74 75.72,557.76 76.68,544.02 78.05,555.01 79.15,563.25 80.52,572.87 81.89,586.61 83.27,587.99 84.64,601.04 86.01,603.10 87.39,601.73 88.76,594.86 90.13,600.35 91.51,598.98 92.88,594.17 94.25,600.35 95.62,603.10 98.37,603.10 99.74,598.29 101.12,603.10 198.60,603.10" fill="none" stroke="#a81c1c" stroke-width="1.5" stroke-linejoin="round" /><polyline points="61.30,603.10 62.67,603.10 64.05,598.98 65.42,586.61 67.07,572.87 68.16,579.74 69.26,583.86 70.64,594.86 72.28,601.45 74.34,602.28 75.72,601.45 77.09,603.10 198.60,603.10" fill="none" stroke="#ff14ff" stroke-width="1.5" stroke-linejoin="round" /><polyline points="61.30,603.10 85.33,603.10 87.39,598.98 89.45,594.86 90.82,593.48 92.19,582.49 93.57,570.12 94.94,572.87 96.31,552.26 97.27,544.02 98.10,534.40 98.92,506.92 99.74,471.20 100.84,495.93 101.80,513.79 103.18,545.39 104.55,572.87 105.92,590.73 107.30,599.67 107.98,596.23 109.35,602.28 110.73,603.10 126.52,603.10 127.20,601.45 128.17,603.10 198.60,603.10" fill="none" stroke="#ffa514" stroke-width="1.5" stroke-linejoin="round" /><line x1="102.01" y1="465.7" x2="102.01" y2="603.1" stroke="#ff8a8a" stroke-width="0.8"/><line x1="103.38" y1="465.7" x2="103.38" y2="603.1" stroke="#777" stroke-width="1.1"/><line x1="103.38" y1="465.7" x2="103.38" y2="603.1" stroke="#111" stroke-width="1.1" stroke-dasharray="6,3"/></g><line x1="61.30" y1="603.10" x2="61.30" y2="600.10" stroke="#3a3a3a" stroke-width="0.85"/><line x1="61.30" y1="465.70" x2="61.30" y2="468.70" stroke="#3a3a3a" stroke-width="0.85"/><line x1="88.76" y1="603.10" x2="88.76" y2="600.10" stroke="#3a3a3a" stroke-width="0.85"/><line x1="88.76" y1="465.70" x2="88.76" y2="468.70" stroke="#3a3a3a" stroke-width="0.85"/><line x1="116.22" y1="603.10" x2="116.22" y2="600.10" stroke="#3a3a3a" stroke-width="0.85"/><line x1="116.22" y1="465.70" x2="116.22" y2="468.70" stroke="#3a3a3a" stroke-width="0.85"/><line x1="143.68" y1="603.10" x2="143.68" y2="600.10" stroke="#3a3a3a" stroke-width="0.85"/><line x1="143.68" y1="465.70" x2="143.68" y2="468.70" stroke="#3a3a3a" stroke-width="0.85"/><line x1="171.14" y1="603.10" x2="171.14" y2="600.10" stroke="#3a3a3a" stroke-width="0.85"/><line x1="171.14" y1="465.70" x2="171.14" y2="468.70" stroke="#3a3a3a" stroke-width="0.85"/><line x1="198.60" y1="603.10" x2="198.60" y2="600.10" stroke="#3a3a3a" stroke-width="0.85"/><line x1="198.60" y1="465.70" x2="198.60" y2="468.70" stroke="#3a3a3a" stroke-width="0.85"/><line x1="61.30" y1="603.10" x2="64.30" y2="603.10" stroke="#3a3a3a" stroke-width="0.85"/><line x1="198.60" y1="603.10" x2="195.60" y2="603.10" stroke="#3a3a3a" stroke-width="0.85"/><line x1="61.30" y1="575.62" x2="64.30" y2="575.62" stroke="#3a3a3a" stroke-width="0.85"/><line x1="198.60" y1="575.62" x2="195.60" y2="575.62" stroke="#3a3a3a" stroke-width="0.85"/><line x1="61.30" y1="548.14" x2="64.30" y2="548.14" stroke="#3a3a3a" stroke-width="0.85"/><line x1="198.60" y1="548.14" x2="195.60" y2="548.14" stroke="#3a3a3a" stroke-width="0.85"/><line x1="61.30" y1="520.66" x2="64.30" y2="520.66" stroke="#3a3a3a" stroke-width="0.85"/><line x1="198.60" y1="520.66" x2="195.60" y2="520.66" stroke="#3a3a3a" stroke-width="0.85"/><line x1="61.30" y1="493.18" x2="64.30" y2="493.18" stroke="#3a3a3a" stroke-width="0.85"/><line x1="198.60" y1="493.18" x2="195.60" y2="493.18" stroke="#3a3a3a" stroke-width="0.85"/><line x1="61.30" y1="465.70" x2="64.30" y2="465.70" stroke="#3a3a3a" stroke-width="0.85"/><line x1="198.60" y1="465.70" x2="195.60" y2="465.70" stroke="#3a3a3a" stroke-width="0.85"/><line x1="61.30" y1="602.90" x2="198.60" y2="602.90" stroke="#2e1000" stroke-width="1.5999999999999999"/><rect x="61.30" y="465.70" width="137.30" height="137.40" fill="none" stroke="#101010" stroke-width="1.4"/><text x="57.30" y="605.60" font-size="7.9" text-anchor="end" fill="#0c0c0c" stroke="#0c0c0c" stroke-width="0.16">0</text><text x="61.30" y="614.20" font-size="7.9" text-anchor="middle" fill="#0c0c0c" stroke="#0c0c0c" stroke-width="0.16">0.0</text><text x="57.30" y="578.12" font-size="7.9" text-anchor="end" fill="#0c0c0c" stroke="#0c0c0c" stroke-width="0.16">2000</text><text x="88.76" y="614.20" font-size="7.9" text-anchor="middle" fill="#0c0c0c" stroke="#0c0c0c" stroke-width="0.16">0.2</text><text x="57.30" y="550.64" font-size="7.9" text-anchor="end" fill="#0c0c0c" stroke="#0c0c0c" stroke-width="0.16">4000</text><text x="116.22" y="614.20" font-size="7.9" text-anchor="middle" fill="#0c0c0c" stroke="#0c0c0c" stroke-width="0.16">0.4</text><text x="57.30" y="523.16" font-size="7.9" text-anchor="end" fill="#0c0c0c" stroke="#0c0c0c" stroke-width="0.16">6000</text><text x="143.68" y="614.20" font-size="7.9" text-anchor="middle" fill="#0c0c0c" stroke="#0c0c0c" stroke-width="0.16">0.6</text><text x="57.30" y="495.68" font-size="7.9" text-anchor="end" fill="#0c0c0c" stroke="#0c0c0c" stroke-width="0.16">8000</text><text x="171.14" y="614.20" font-size="7.9" text-anchor="middle" fill="#0c0c0c" stroke="#0c0c0c" stroke-width="0.16">0.8</text><text x="57.30" y="468.20" font-size="7.9" text-anchor="end" fill="#0c0c0c" stroke="#0c0c0c" stroke-width="0.16">10000</text><text x="198.60" y="614.20" font-size="7.9" text-anchor="middle" fill="#0c0c0c" stroke="#0c0c0c" stroke-width="0.16">1.0</text><text x="130.00" y="626.60" font-size="10.15" text-anchor="middle" fill="#0c0c0c" stroke="#0c0c0c" stroke-width="0.20">Candidate result</text><text x="24.60" y="534.70" font-size="10.15" text-anchor="middle" fill="#0c0c0c" stroke="#0c0c0c" stroke-width="0.20" transform="rotate(-90 24.60 534.70)">Votes received</text></g>
<g id="main"><line x1="308.44" y1="62.25" x2="308.44" y2="606.50" stroke="#333" stroke-width="1.0" stroke-dasharray="1.15,2.9"/><line x1="336.89" y1="62.25" x2="336.89" y2="606.50" stroke="#333" stroke-width="1.0" stroke-dasharray="1.15,2.9"/><line x1="365.34" y1="62.25" x2="365.34" y2="606.50" stroke="#333" stroke-width="1.0" stroke-dasharray="1.15,2.9"/><line x1="393.78" y1="62.25" x2="393.78" y2="606.50" stroke="#333" stroke-width="1.0" stroke-dasharray="1.15,2.9"/><line x1="422.23" y1="62.25" x2="422.23" y2="606.50" stroke="#333" stroke-width="1.0" stroke-dasharray="1.15,2.9"/><line x1="450.67" y1="62.25" x2="450.67" y2="606.50" stroke="#333" stroke-width="1.0" stroke-dasharray="1.15,2.9"/><line x1="479.12" y1="62.25" x2="479.12" y2="606.50" stroke="#333" stroke-width="1.0" stroke-dasharray="1.15,2.9"/><line x1="507.56" y1="62.25" x2="507.56" y2="606.50" stroke="#333" stroke-width="1.0" stroke-dasharray="1.15,2.9"/><line x1="536.00" y1="62.25" x2="536.00" y2="606.50" stroke="#333" stroke-width="1.0" stroke-dasharray="1.15,2.9"/><line x1="564.45" y1="62.25" x2="564.45" y2="606.50" stroke="#333" stroke-width="1.0" stroke-dasharray="1.15,2.9"/><line x1="592.89" y1="62.25" x2="592.89" y2="606.50" stroke="#333" stroke-width="1.0" stroke-dasharray="1.15,2.9"/><line x1="621.34" y1="62.25" x2="621.34" y2="606.50" stroke="#333" stroke-width="1.0" stroke-dasharray="1.15,2.9"/><line x1="649.79" y1="62.25" x2="649.79" y2="606.50" stroke="#333" stroke-width="1.0" stroke-dasharray="1.15,2.9"/><line x1="678.23" y1="62.25" x2="678.23" y2="606.50" stroke="#333" stroke-width="1.0" stroke-dasharray="1.15,2.9"/><line x1="706.67" y1="62.25" x2="706.67" y2="606.50" stroke="#333" stroke-width="1.0" stroke-dasharray="1.15,2.9"/><line x1="735.12" y1="62.25" x2="735.12" y2="606.50" stroke="#333" stroke-width="1.0" stroke-dasharray="1.15,2.9"/><line x1="763.57" y1="62.25" x2="763.57" y2="606.50" stroke="#333" stroke-width="1.0" stroke-dasharray="1.15,2.9"/><line x1="792.01" y1="62.25" x2="792.01" y2="606.50" stroke="#333" stroke-width="1.0" stroke-dasharray="1.15,2.9"/><line x1="820.46" y1="62.25" x2="820.46" y2="606.50" stroke="#333" stroke-width="1.0" stroke-dasharray="1.15,2.9"/><line x1="280.00" y1="515.79" x2="848.90" y2="515.79" stroke="#333" stroke-width="1.0" stroke-dasharray="1.15,2.9"/><line x1="280.00" y1="425.08" x2="848.90" y2="425.08" stroke="#333" stroke-width="1.0" stroke-dasharray="1.15,2.9"/><line x1="280.00" y1="334.38" x2="848.90" y2="334.38" stroke="#333" stroke-width="1.0" stroke-dasharray="1.15,2.9"/><line x1="280.00" y1="243.67" x2="848.90" y2="243.67" stroke="#333" stroke-width="1.0" stroke-dasharray="1.15,2.9"/><line x1="280.00" y1="152.96" x2="848.90" y2="152.96" stroke="#333" stroke-width="1.0" stroke-dasharray="1.15,2.9"/><g clip-path="url(#cm)"><line x1="553.07" y1="352.79" x2="553.07" y2="314.42" stroke="#d070dc" stroke-width="1.2"/><line x1="575.83" y1="452.30" x2="575.83" y2="470.44" stroke="#d070dc" stroke-width="1.2"/><line x1="587.21" y1="142.80" x2="587.21" y2="92.00" stroke="#d070dc" stroke-width="1.2"/><line x1="604.27" y1="223.35" x2="604.27" y2="182.44" stroke="#d070dc" stroke-width="1.2"/><line x1="609.96" y1="179.99" x2="609.96" y2="149.51" stroke="#d070dc" stroke-width="1.2"/><polyline points="280.00,606.50 473.43,606.50 479.12,594.71 484.80,600.88 490.49,606.50 496.18,555.70 501.87,575.21 507.56,584.91 513.25,533.03 518.94,570.22 524.63,555.52 530.32,580.92 536.00,542.10 541.69,565.68 547.38,429.62 553.07,314.42 558.76,519.42 564.45,262.44 570.14,263.62 575.83,470.44 581.52,384.26 587.21,92.00 592.89,270.88 598.58,399.69 604.27,182.44 609.96,149.51 615.65,452.30 621.34,505.81 627.03,547.54 632.72,606.50 638.41,552.44 644.10,568.40 649.79,606.50 718.05,606.50 723.74,569.13 729.43,606.50 814.77,606.50 820.45,602.33 826.14,606.50 843.21,606.50 848.90,563.41" fill="none" stroke="#858585" stroke-width="1.2" stroke-linejoin="round" /><polyline points="280.00,606.50 473.43,606.50 479.12,595.62 484.80,601.06 490.49,606.50 496.18,560.24 501.87,575.66 507.56,585.18 513.25,537.56 518.94,570.22 524.63,555.52 530.32,581.10 536.00,546.63 541.69,566.59 547.38,431.43 553.07,352.79 558.76,522.14 564.45,269.16 570.14,262.99 575.83,452.30 581.52,388.80 587.21,142.80 592.89,279.95 598.58,402.41 604.27,223.35 609.96,179.99 615.65,456.83 621.34,506.72 627.03,548.17 632.72,606.50 638.41,554.34 644.10,568.95 649.79,606.50 718.05,606.50 723.74,569.31 729.43,606.50 814.77,606.50 820.45,602.87 826.14,606.50 843.21,606.50 848.90,566.59" fill="none" stroke="#1e8a1e" stroke-width="2.0" stroke-linejoin="round" /><polyline points="280.00,606.50 473.43,606.50 479.12,602.42 484.80,604.23 490.49,606.50 496.18,586.00 501.87,592.08 507.56,596.98 513.25,572.03 518.94,592.08 524.63,579.92 530.32,595.80 536.00,581.10 541.69,587.27 547.38,531.21 553.07,479.51 558.76,567.50 564.45,419.37 570.14,443.23 575.83,550.26 581.52,479.51 587.21,338.18 592.89,452.30 598.58,477.51 604.27,410.21 609.96,385.26 615.65,536.02 621.34,545.73 627.03,570.22 632.72,606.50 638.41,575.02 644.10,583.55 649.79,606.50 718.05,606.50 723.74,599.79 729.43,606.50 814.77,606.50 820.45,603.78 826.14,606.50 843.21,606.50 848.90,576.57" fill="none" stroke="#ff1414" stroke-width="2.0" stroke-linejoin="round" /><polyline points="280.00,606.50 473.43,606.50 479.12,603.33 484.80,604.87 490.49,606.50 496.18,590.26 501.87,598.25 507.56,599.42 513.25,587.27 518.94,596.34 524.63,593.98 530.32,600.06 536.00,589.08 541.69,592.08 547.38,553.89 553.07,516.52 558.76,579.92 564.45,506.72 570.14,504.91 575.83,568.31 581.52,526.68 587.21,428.53 592.89,479.51 598.58,524.41 604.27,458.65 609.96,434.61 615.65,551.89 621.34,562.87 627.03,581.10 632.72,606.50 638.41,588.36 644.10,594.53 649.79,606.50 718.05,606.50 723.74,601.51 729.43,606.50 814.77,606.50 820.45,605.14 826.14,606.50 843.21,606.50 848.90,595.62" fill="none" stroke="#14868a" stroke-width="2.0" stroke-linejoin="round" /><polyline points="280.00,606.50 473.43,606.50 479.12,601.87 484.80,603.96 490.49,606.50 496.18,581.10 501.87,587.27 507.56,594.53 513.25,577.47 518.94,592.08 524.63,581.10 530.32,595.80 536.00,576.84 541.69,585.36 547.38,526.68 553.07,474.43 558.76,567.50 564.45,471.98 570.14,465.27 575.83,552.44 581.52,524.86 587.21,410.84 592.89,470.44 598.58,519.51 604.27,446.85 609.96,444.40 615.65,550.62 621.34,565.32 627.03,582.37 632.72,606.50 638.41,589.08 644.10,596.34 649.79,606.50 718.05,606.50 723.74,603.42 729.43,606.50 814.77,606.50 820.45,604.69 826.14,606.50 843.21,606.50 848.90,583.82" fill="none" stroke="#a81c1c" stroke-width="2.0" stroke-linejoin="round" /><polyline points="280.00,606.50 473.43,606.50 479.12,603.69 484.80,605.14 490.49,606.50 496.18,598.79 501.87,601.87 507.56,603.69 513.25,592.08 518.94,599.42 524.63,599.42 530.32,598.79 536.00,595.80 541.69,598.79 547.38,576.84 553.07,554.34 558.76,592.08 564.45,558.88 570.14,556.16 575.83,579.29 581.52,572.58 587.21,535.75 592.89,545.73 598.58,579.92 604.27,542.10 609.96,539.01 615.65,585.36 621.34,590.90 627.03,598.25 632.72,606.50 638.41,598.79 644.10,601.24 649.79,606.50 718.05,606.50 723.74,604.23 729.43,606.50 814.77,606.50 820.45,604.23 826.14,606.50 843.21,606.50 848.90,601.06" fill="none" stroke="#ff14ff" stroke-width="2.0" stroke-linejoin="round" /><polyline points="280.00,606.50 473.43,606.50 479.12,595.80 484.80,601.24 490.49,606.50 496.18,561.15 501.87,576.29 507.56,586.00 513.25,538.47 518.94,578.74 524.63,560.42 530.32,583.55 536.00,547.00 541.69,565.32 547.38,465.90 553.07,359.50 558.76,535.75 564.45,303.53 570.14,306.71 575.83,481.78 581.52,411.48 587.21,167.74 592.89,293.56 598.58,401.05 604.27,226.43 609.96,206.84 615.65,461.37 621.34,508.53 627.03,553.07 632.72,606.50 638.41,562.87 644.10,571.40 649.79,606.50 718.05,606.50 723.74,570.22 729.43,606.50 814.77,606.50 820.45,602.42 826.14,606.50 843.21,606.50 848.90,563.87" fill="none" stroke="#ffa514" stroke-width="2.0" stroke-linejoin="round" /></g><line x1="582.9" y1="62.25" x2="582.9" y2="606.5" stroke="#ff2020" stroke-opacity="0.45" stroke-width="1.7"/><line x1="589.1" y1="62.25" x2="589.1" y2="606.5" stroke="#000" stroke-opacity="0.55" stroke-width="1.25"/><line x1="280.00" y1="606.50" x2="280.00" y2="602.00" stroke="#3a3a3a" stroke-width="0.85"/><line x1="280.00" y1="62.25" x2="280.00" y2="66.75" stroke="#3a3a3a" stroke-width="0.85"/><line x1="308.44" y1="606.50" x2="308.44" y2="602.00" stroke="#3a3a3a" stroke-width="0.85"/><line x1="308.44" y1="62.25" x2="308.44" y2="66.75" stroke="#3a3a3a" stroke-width="0.85"/><line x1="336.89" y1="606.50" x2="336.89" y2="602.00" stroke="#3a3a3a" stroke-width="0.85"/><line x1="336.89" y1="62.25" x2="336.89" y2="66.75" stroke="#3a3a3a" stroke-width="0.85"/><line x1="365.34" y1="606.50" x2="365.34" y2="602.00" stroke="#3a3a3a" stroke-width="0.85"/><line x1="365.34" y1="62.25" x2="365.34" y2="66.75" stroke="#3a3a3a" stroke-width="0.85"/><line x1="393.78" y1="606.50" x2="393.78" y2="602.00" stroke="#3a3a3a" stroke-width="0.85"/><line x1="393.78" y1="62.25" x2="393.78" y2="66.75" stroke="#3a3a3a" stroke-width="0.85"/><line x1="422.23" y1="606.50" x2="422.23" y2="602.00" stroke="#3a3a3a" stroke-width="0.85"/><line x1="422.23" y1="62.25" x2="422.23" y2="66.75" stroke="#3a3a3a" stroke-width="0.85"/><line x1="450.67" y1="606.50" x2="450.67" y2="602.00" stroke="#3a3a3a" stroke-width="0.85"/><line x1="450.67" y1="62.25" x2="450.67" y2="66.75" stroke="#3a3a3a" stroke-width="0.85"/><line x1="479.12" y1="606.50" x2="479.12" y2="602.00" stroke="#3a3a3a" stroke-width="0.85"/><line x1="479.12" y1="62.25" x2="479.12" y2="66.75" stroke="#3a3a3a" stroke-width="0.85"/><line x1="507.56" y1="606.50" x2="507.56" y2="602.00" stroke="#3a3a3a" stroke-width="0.85"/><line x1="507.56" y1="62.25" x2="507.56" y2="66.75" stroke="#3a3a3a" stroke-width="0.85"/><line x1="536.00" y1="606.50" x2="536.00" y2="602.00" stroke="#3a3a3a" stroke-width="0.85"/><line x1="536.00" y1="62.25" x2="536.00" y2="66.75" stroke="#3a3a3a" stroke-width="0.85"/><line x1="564.45" y1="606.50" x2="564.45" y2="602.00" stroke="#3a3a3a" stroke-width="0.85"/><line x1="564.45" y1="62.25" x2="564.45" y2="66.75" stroke="#3a3a3a" stroke-width="0.85"/><line x1="592.89" y1="606.50" x2="592.89" y2="602.00" stroke="#3a3a3a" stroke-width="0.85"/><line x1="592.89" y1="62.25" x2="592.89" y2="66.75" stroke="#3a3a3a" stroke-width="0.85"/><line x1="621.34" y1="606.50" x2="621.34" y2="602.00" stroke="#3a3a3a" stroke-width="0.85"/><line x1="621.34" y1="62.25" x2="621.34" y2="66.75" stroke="#3a3a3a" stroke-width="0.85"/><line x1="649.79" y1="606.50" x2="649.79" y2="602.00" stroke="#3a3a3a" stroke-width="0.85"/><line x1="649.79" y1="62.25" x2="649.79" y2="66.75" stroke="#3a3a3a" stroke-width="0.85"/><line x1="678.23" y1="606.50" x2="678.23" y2="602.00" stroke="#3a3a3a" stroke-width="0.85"/><line x1="678.23" y1="62.25" x2="678.23" y2="66.75" stroke="#3a3a3a" stroke-width="0.85"/><line x1="706.67" y1="606.50" x2="706.67" y2="602.00" stroke="#3a3a3a" stroke-width="0.85"/><line x1="706.67" y1="62.25" x2="706.67" y2="66.75" stroke="#3a3a3a" stroke-width="0.85"/><line x1="735.12" y1="606.50" x2="735.12" y2="602.00" stroke="#3a3a3a" stroke-width="0.85"/><line x1="735.12" y1="62.25" x2="735.12" y2="66.75" stroke="#3a3a3a" stroke-width="0.85"/><line x1="763.57" y1="606.50" x2="763.57" y2="602.00" stroke="#3a3a3a" stroke-width="0.85"/><line x1="763.57" y1="62.25" x2="763.57" y2="66.75" stroke="#3a3a3a" stroke-width="0.85"/><line x1="792.01" y1="606.50" x2="792.01" y2="602.00" stroke="#3a3a3a" stroke-width="0.85"/><line x1="792.01" y1="62.25" x2="792.01" y2="66.75" stroke="#3a3a3a" stroke-width="0.85"/><line x1="820.46" y1="606.50" x2="820.46" y2="602.00" stroke="#3a3a3a" stroke-width="0.85"/><line x1="820.46" y1="62.25" x2="820.46" y2="66.75" stroke="#3a3a3a" stroke-width="0.85"/><line x1="848.90" y1="606.50" x2="848.90" y2="602.00" stroke="#3a3a3a" stroke-width="0.85"/><line x1="848.90" y1="62.25" x2="848.90" y2="66.75" stroke="#3a3a3a" stroke-width="0.85"/><line x1="280.00" y1="606.50" x2="284.50" y2="606.50" stroke="#3a3a3a" stroke-width="0.85"/><line x1="848.90" y1="606.50" x2="844.40" y2="606.50" stroke="#3a3a3a" stroke-width="0.85"/><line x1="280.00" y1="515.79" x2="284.50" y2="515.79" stroke="#3a3a3a" stroke-width="0.85"/><line x1="848.90" y1="515.79" x2="844.40" y2="515.79" stroke="#3a3a3a" stroke-width="0.85"/><line x1="280.00" y1="425.08" x2="284.50" y2="425.08" stroke="#3a3a3a" stroke-width="0.85"/><line x1="848.90" y1="425.08" x2="844.40" y2="425.08" stroke="#3a3a3a" stroke-width="0.85"/><line x1="280.00" y1="334.38" x2="284.50" y2="334.38" stroke="#3a3a3a" stroke-width="0.85"/><line x1="848.90" y1="334.38" x2="844.40" y2="334.38" stroke="#3a3a3a" stroke-width="0.85"/><line x1="280.00" y1="243.67" x2="284.50" y2="243.67" stroke="#3a3a3a" stroke-width="0.85"/><line x1="848.90" y1="243.67" x2="844.40" y2="243.67" stroke="#3a3a3a" stroke-width="0.85"/><line x1="280.00" y1="152.96" x2="284.50" y2="152.96" stroke="#3a3a3a" stroke-width="0.85"/><line x1="848.90" y1="152.96" x2="844.40" y2="152.96" stroke="#3a3a3a" stroke-width="0.85"/><line x1="280.00" y1="62.25" x2="284.50" y2="62.25" stroke="#3a3a3a" stroke-width="0.85"/><line x1="848.90" y1="62.25" x2="844.40" y2="62.25" stroke="#3a3a3a" stroke-width="0.85"/><line x1="280.00" y1="606.30" x2="848.90" y2="606.30" stroke="#2e1000" stroke-width="1.7"/><rect x="280.00" y="62.25" width="568.90" height="544.25" fill="none" stroke="#101010" stroke-width="1.5"/><text x="276.00" y="609.50" font-size="11.3" text-anchor="end" fill="#0c0c0c" stroke="#0c0c0c" stroke-width="0.23">0</text><text x="276.00" y="518.79" font-size="11.3" text-anchor="end" fill="#0c0c0c" stroke="#0c0c0c" stroke-width="0.23">1000</text><text x="276.00" y="428.08" font-size="11.3" text-anchor="end" fill="#0c0c0c" stroke="#0c0c0c" stroke-width="0.23">2000</text><text x="276.00" y="337.38" font-size="11.3" text-anchor="end" fill="#0c0c0c" stroke="#0c0c0c" stroke-width="0.23">3000</text><text x="276.00" y="246.67" font-size="11.3" text-anchor="end" fill="#0c0c0c" stroke="#0c0c0c" stroke-width="0.23">4000</text><text x="276.00" y="155.96" font-size="11.3" text-anchor="end" fill="#0c0c0c" stroke="#0c0c0c" stroke-width="0.23">5000</text><text x="276.00" y="65.25" font-size="11.3" text-anchor="end" fill="#0c0c0c" stroke="#0c0c0c" stroke-width="0.23">6000</text><text x="284.10" y="612.30" font-size="11.3" text-anchor="end" fill="#0c0c0c" stroke="#0c0c0c" stroke-width="0.23" transform="rotate(-90 284.10 612.30)">0.00</text><text x="312.55" y="612.30" font-size="11.3" text-anchor="end" fill="#0c0c0c" stroke="#0c0c0c" stroke-width="0.23" transform="rotate(-90 312.55 612.30)">0.05</text><text x="340.99" y="612.30" font-size="11.3" text-anchor="end" fill="#0c0c0c" stroke="#0c0c0c" stroke-width="0.23" transform="rotate(-90 340.99 612.30)">0.10</text><text x="369.44" y="612.30" font-size="11.3" text-anchor="end" fill="#0c0c0c" stroke="#0c0c0c" stroke-width="0.23" transform="rotate(-90 369.44 612.30)">0.15</text><text x="397.88" y="612.30" font-size="11.3" text-anchor="end" fill="#0c0c0c" stroke="#0c0c0c" stroke-width="0.23" transform="rotate(-90 397.88 612.30)">0.20</text><text x="426.33" y="612.30" font-size="11.3" text-anchor="end" fill="#0c0c0c" stroke="#0c0c0c" stroke-width="0.23" transform="rotate(-90 426.33 612.30)">0.25</text><text x="454.77" y="612.30" font-size="11.3" text-anchor="end" fill="#0c0c0c" stroke="#0c0c0c" stroke-width="0.23" transform="rotate(-90 454.77 612.30)">0.30</text><text x="483.22" y="612.30" font-size="11.3" text-anchor="end" fill="#0c0c0c" stroke="#0c0c0c" stroke-width="0.23" transform="rotate(-90 483.22 612.30)">0.35</text><text x="511.66" y="612.30" font-size="11.3" text-anchor="end" fill="#0c0c0c" stroke="#0c0c0c" stroke-width="0.23" transform="rotate(-90 511.66 612.30)">0.40</text><text x="540.11" y="612.30" font-size="11.3" text-anchor="end" fill="#0c0c0c" stroke="#0c0c0c" stroke-width="0.23" transform="rotate(-90 540.11 612.30)">0.45</text><text x="568.55" y="612.30" font-size="11.3" text-anchor="end" fill="#0c0c0c" stroke="#0c0c0c" stroke-width="0.23" transform="rotate(-90 568.55 612.30)">0.50</text><text x="597.00" y="612.30" font-size="11.3" text-anchor="end" fill="#0c0c0c" stroke="#0c0c0c" stroke-width="0.23" transform="rotate(-90 597.00 612.30)">0.55</text><text x="625.44" y="612.30" font-size="11.3" text-anchor="end" fill="#0c0c0c" stroke="#0c0c0c" stroke-width="0.23" transform="rotate(-90 625.44 612.30)">0.60</text><text x="653.89" y="612.30" font-size="11.3" text-anchor="end" fill="#0c0c0c" stroke="#0c0c0c" stroke-width="0.23" transform="rotate(-90 653.89 612.30)">0.65</text><text x="682.33" y="612.30" font-size="11.3" text-anchor="end" fill="#0c0c0c" stroke="#0c0c0c" stroke-width="0.23" transform="rotate(-90 682.33 612.30)">0.70</text><text x="710.77" y="612.30" font-size="11.3" text-anchor="end" fill="#0c0c0c" stroke="#0c0c0c" stroke-width="0.23" transform="rotate(-90 710.77 612.30)">0.75</text><text x="739.22" y="612.30" font-size="11.3" text-anchor="end" fill="#0c0c0c" stroke="#0c0c0c" stroke-width="0.23" transform="rotate(-90 739.22 612.30)">0.80</text><text x="767.67" y="612.30" font-size="11.3" text-anchor="end" fill="#0c0c0c" stroke="#0c0c0c" stroke-width="0.23" transform="rotate(-90 767.67 612.30)">0.85</text><text x="796.11" y="612.30" font-size="11.3" text-anchor="end" fill="#0c0c0c" stroke="#0c0c0c" stroke-width="0.23" transform="rotate(-90 796.11 612.30)">0.90</text><text x="824.56" y="612.30" font-size="11.3" text-anchor="end" fill="#0c0c0c" stroke="#0c0c0c" stroke-width="0.23" transform="rotate(-90 824.56 612.30)">0.95</text><text x="853.00" y="612.30" font-size="11.3" text-anchor="end" fill="#0c0c0c" stroke="#0c0c0c" stroke-width="0.23" transform="rotate(-90 853.00 612.30)">1.00</text><text x="564.60" y="651.90" font-size="14.7" text-anchor="middle" fill="#0c0c0c" stroke="#0c0c0c" stroke-width="0.29">Turnout</text><text x="239.60" y="334.70" font-size="14.7" text-anchor="middle" fill="#0c0c0c" stroke="#0c0c0c" stroke-width="0.29" transform="rotate(-90 239.60 334.70)"># of votes in 1.00% bin</text></g>
<g id="legend"><rect x="708.3" y="67.9" width="134.7" height="157.6" fill="#fff" stroke="#262626" stroke-width="1.3"/><line x1="715.0" y1="77.0" x2="732.5" y2="77.0" stroke="#1e8a1e" stroke-width="1.7"/><text x="743.60" y="80.60" font-size="11.3" text-anchor="start" fill="#0c0c0c" stroke="#0c0c0c" stroke-width="0.23">EdRo</text><line x1="715.0" y1="93.3" x2="732.5" y2="93.3" stroke="#ff1414" stroke-width="1.7"/><text x="743.60" y="96.90" font-size="11.3" text-anchor="start" fill="#0c0c0c" stroke="#0c0c0c" stroke-width="0.23">KPRF</text><line x1="715.0" y1="109.5" x2="732.5" y2="109.5" stroke="#14868a" stroke-width="1.7"/><text x="743.60" y="113.10" font-size="11.3" text-anchor="start" fill="#0c0c0c" stroke="#0c0c0c" stroke-width="0.23">Rodina</text><line x1="715.0" y1="125.7" x2="732.5" y2="125.7" stroke="#a81c1c" stroke-width="1.7"/><text x="743.60" y="129.30" font-size="11.3" text-anchor="start" fill="#0c0c0c" stroke="#0c0c0c" stroke-width="0.23">LDPR</text><line x1="715.0" y1="141.9" x2="732.5" y2="141.9" stroke="#ff14ff" stroke-width="1.7"/><text x="743.60" y="145.50" font-size="11.3" text-anchor="start" fill="#0c0c0c" stroke="#0c0c0c" stroke-width="0.23">SpRos</text><line x1="715.0" y1="158.2" x2="732.5" y2="158.2" stroke="#ffa514" stroke-width="1.7"/><text x="743.60" y="161.80" font-size="11.3" text-anchor="start" fill="#0c0c0c" stroke="#0c0c0c" stroke-width="0.23">Others</text><line x1="715.0" y1="181.5" x2="732.5" y2="181.5" stroke="#a2a2a2" stroke-width="1.3"/><text x="743.60" y="178.40" font-size="11.3" text-anchor="start" fill="#0c0c0c" stroke="#0c0c0c" stroke-width="0.23">All except EdRo,</text><text x="743.60" y="190.30" font-size="11.3" text-anchor="start" fill="#0c0c0c" stroke="#0c0c0c" stroke-width="0.23">scaled by 0.447</text><line x1="715.0" y1="210.4" x2="732.5" y2="210.4" stroke="#ff80ff" stroke-width="1.0"/><text x="743.60" y="206.70" font-size="11.3" text-anchor="start" fill="#0c0c0c" stroke="#0c0c0c" stroke-width="0.23">-3 K extra votes</text><text x="743.60" y="219.00" font-size="11.3" text-anchor="start" fill="#0c0c0c" stroke="#0c0c0c" stroke-width="0.23"> of 46 K</text></g>
</g>
</svg>
</body></html>
